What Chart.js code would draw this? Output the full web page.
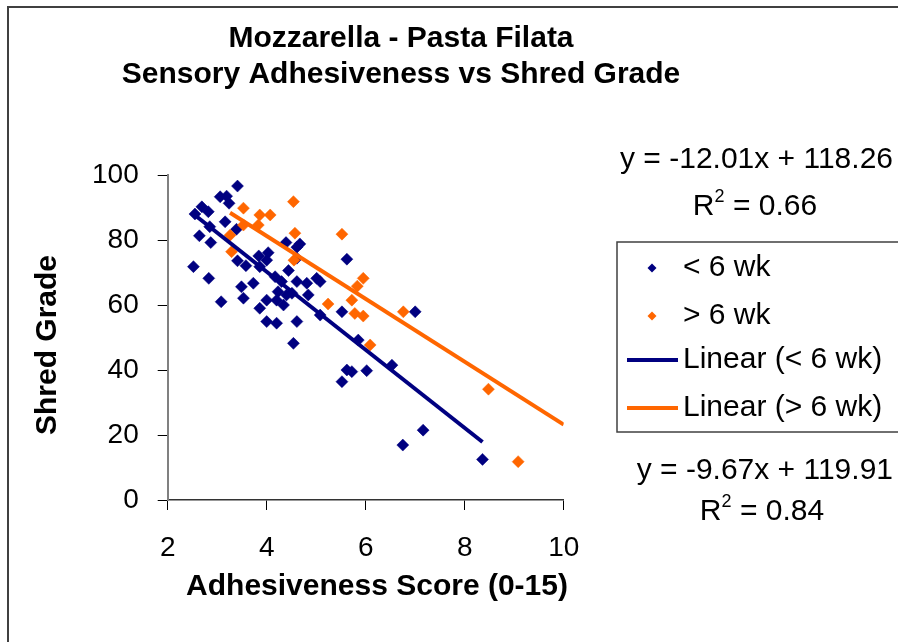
<!DOCTYPE html>
<html>
<head>
<meta charset="utf-8">
<script src="https://cdn.jsdelivr.net/npm/chart.js@4/dist/chart.umd.min.js"></script>
<style>
  html, body { margin: 0; padding: 0; background: #fff; }
</style>
</head>
<body>
<canvas id="myChart" width="898" height="642"></canvas>
<script>
// values
const blueX = [3.41,3.06,3.19,3.24,2.69,2.82,2.55,2.85,3.16,3.39,2.64,2.87,3.41,3.84,4.03,3.58,2.52,2.83,3.49,3.73,
               4.39,4.61,4.61,4.44,4.30,4.61,3.86,4.00,4.17,4.67,5.62,4.81,5.01,3.53,3.08,3.86,4.00,4.20,4.34,4.40,
               4.23,4.00,4.20,4.54,4.61,4.51,4.84,5.08,5.08,5.52,5.85,7.00,6.53,5.62,5.72,6.02,5.52,7.16,6.75,8.36];
const blueY = [96.6,93.3,93.5,91.3,90.2,88.7,88.0,84.1,85.6,83.3,81.3,79.2,73.6,75.1,76.1,72.1,71.8,68.2,65.6,66.7,
               79.2,77.8,74.4,70.6,67.2,67.2,71.8,73.8,68.7,78.8,74.1,66.7,68.2,62.1,61.0,59.0,61.5,61.5,60.0,63.1,
               64.1,54.9,54.4,48.2,54.9,63.6,63.1,67.2,56.9,57.9,49.2,57.9,41.5,40.0,39.5,39.8,36.4,21.5,16.9,12.5];
const orangeX = [3.53,3.86,4.07,4.54,3.83,3.53,3.26,3.29,4.57,4.55,5.52,5.95,5.83,5.24,5.72,5.78,5.95,6.76,6.09,8.48,9.08];
const orangeY = [89.8,87.7,87.7,91.8,84.6,84.6,81.5,76.4,82.1,73.8,81.8,68.2,65.8,60.3,61.5,57.4,56.6,57.9,47.7,34.1,11.8];

const xTicks = [2, 4, 6, 8, 10];
const yTicks = [0, 20, 40, 60, 80, 100];

const blueFit = { slope: -12.01, intercept: 118.26, r2: 0.66 };
const orangeFit = { slope: -9.67, intercept: 119.91, r2: 0.84 };
const orangeFitEnd = 10; // trendline runs on to the axis end

const titleLines = ['Mozzarella - Pasta Filata', 'Sensory Adhesiveness vs Shred Grade'];
const xTitle = 'Adhesiveness Score (0-15)';
const yTitle = 'Shred Grade';

const BLUE = '#000080';
const ORANGE = '#FF6600';
const FAMILY = '"Liberation Sans", Arial, sans-serif';
const font = (size, bold) => (bold ? 'bold ' : '') + size + 'px ' + FAMILY;

const toPoints = (xs, ys) => xs.map((x, i) => ({ x: x, y: ys[i] }));
const fitLine = (fit, x0, x1) => [x0, x1].map(x => ({ x: x, y: fit.slope * x + fit.intercept }));
const eqText = fit => 'y = ' + fit.slope.toFixed(2) + 'x + ' + fit.intercept.toFixed(2);

function drawR2(c, cx, y, r2) {
    const rest = ' = ' + r2.toFixed(2);
    c.font = font(30);
    const wR = c.measureText('R').width;
    const wRest = c.measureText(rest).width;
    c.font = font(18);
    const w2 = c.measureText('2').width;
    let x = cx - (wR + w2 + wRest) / 2;
    c.textAlign = 'left';
    c.textBaseline = 'alphabetic';
    c.font = font(30); c.fillText('R', x, y); x += wR;
    c.font = font(18); c.fillText('2', x, y - 13); x += w2;
    c.font = font(30); c.fillText(rest, x, y);
}

const extras = {
    id: 'extras',
    beforeDraw(chart) {
        const c = chart.ctx;
        c.save();
        c.fillStyle = '#fff';
        c.fillRect(0, 0, chart.width, chart.height);
        c.strokeStyle = '#404040';
        c.lineWidth = 2;
        c.strokeRect(8, 7, chart.width + 20, chart.height + 20);
        c.restore();
    },
    afterDraw(chart) {
        const c = chart.ctx;
        c.save();
        c.fillStyle = '#000';
        c.textBaseline = 'alphabetic';
        c.textAlign = 'center';
        c.font = font(30, true);
        c.fillText(titleLines[0], 401, 47);
        c.fillText(titleLines[1], 401, 83);
        c.fillText(xTitle, 377, 595);
        c.save();
        c.translate(56, 345);
        c.rotate(-Math.PI / 2);
        c.fillText(yTitle, 0, 0);
        c.restore();

        // trendline equations
        c.font = font(30);
        c.textAlign = 'right';
        c.fillText(eqText(blueFit), 893, 168);
        drawR2(c, 755, 215, blueFit.r2);
        c.font = font(30);
        c.textAlign = 'right';
        c.fillText(eqText(orangeFit), 893, 479);
        drawR2(c, 762, 520, orangeFit.r2);

        // legend
        c.strokeStyle = '#404040';
        c.lineWidth = 1.5;
        c.strokeRect(617, 242, 300, 190);
        const rows = [268, 316, 360, 408];
        chart.data.datasets.forEach((ds, i) => {
            const y = rows[i];
            if (ds.showLine) {
                c.strokeStyle = ds.borderColor;
                c.lineWidth = 4;
                c.beginPath();
                c.moveTo(627, y);
                c.lineTo(678, y);
                c.stroke();
            } else {
                c.fillStyle = ds.backgroundColor;
                c.beginPath();
                c.moveTo(652, y - 4.5);
                c.lineTo(656.5, y);
                c.lineTo(652, y + 4.5);
                c.lineTo(647.5, y);
                c.closePath();
                c.fill();
            }
            c.fillStyle = '#000';
            c.font = font(30);
            c.textAlign = 'left';
            c.textBaseline = 'middle';
            c.fillText(ds.label, 683, y);
        });
        c.restore();
    }
};

const ctx = document.getElementById('myChart').getContext('2d');
const myChart = new Chart(ctx, {
    type: 'scatter',
    data: {
        datasets: [
            {
                label: '< 6 wk',
                data: toPoints(blueX, blueY),
                pointStyle: 'rectRot',
                pointRadius: 6,
                backgroundColor: BLUE,
                borderColor: BLUE,
                borderWidth: 0.5,
                order: 4
            },
            {
                label: '> 6 wk',
                data: toPoints(orangeX, orangeY),
                pointStyle: 'rectRot',
                pointRadius: 6,
                backgroundColor: ORANGE,
                borderColor: ORANGE,
                borderWidth: 0.5,
                order: 3
            },
            {
                label: 'Linear (< 6 wk)',
                data: fitLine(blueFit, Math.min(...blueX), Math.max(...blueX)),
                showLine: true,
                pointRadius: 0,
                borderColor: BLUE,
                backgroundColor: BLUE,
                borderWidth: 4,
                order: 2
            },
            {
                label: 'Linear (> 6 wk)',
                data: fitLine(orangeFit, Math.min(...orangeX), orangeFitEnd),
                showLine: true,
                pointRadius: 0,
                borderColor: ORANGE,
                backgroundColor: ORANGE,
                borderWidth: 4,
                order: 1
            }
        ]
    },
    options: {
        responsive: false,
        animation: false,
        layout: { padding: { left: 20, right: 334.3, top: 175, bottom: 0 } },
        plugins: {
            legend: { display: false },
            title: { display: false },
            tooltip: { enabled: false }
        },
        scales: {
            x: {
                type: 'linear',
                min: xTicks[0],
                max: xTicks[xTicks.length - 1],
                afterBuildTicks: s => { s.ticks = xTicks.map(v => ({ value: v })); },
                afterFit: s => { s.height = 142; },
                grid: { drawOnChartArea: false, drawTicks: true, tickLength: 10, color: '#000', lineWidth: 1 },
                border: { color: '#333', width: 1.5 },
                ticks: { font: { family: FAMILY, size: 28 }, color: '#000', padding: 21, maxRotation: 0 }
            },
            y: {
                type: 'linear',
                min: yTicks[0],
                max: yTicks[yTicks.length - 1],
                afterBuildTicks: s => { s.ticks = yTicks.map(v => ({ value: v })); },
                afterFit: s => { s.width = 147.7; },
                grid: { drawOnChartArea: false, drawTicks: true, tickLength: 10, color: '#000', lineWidth: 1 },
                border: { color: '#808080', width: 2 },
                ticks: { font: { family: FAMILY, size: 28 }, color: '#000', padding: 19 }
            }
        }
    },
    plugins: [extras]
});
</script>
</body>
</html>
